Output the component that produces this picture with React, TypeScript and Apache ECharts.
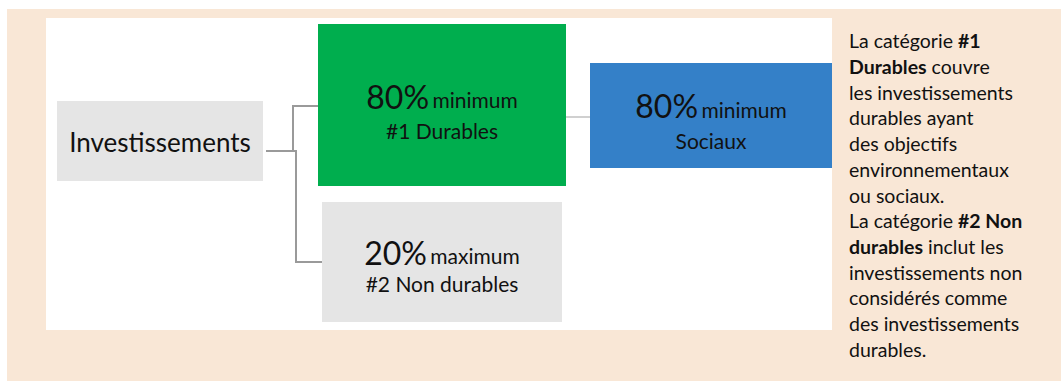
import React, { useEffect, useRef } from "react";
import * as echarts from "echarts";

const rootLabel = "Investissements";
const nodePercents = ["80%", "80%", "20%"];
const nodeQualifiers = ["minimum", "minimum", "maximum"];
const nodeNames = ["#1 Durables", "Sociaux", "#2 Non durables"];
const descriptionLines: string[] = [
  "La catégorie {b|#1}",
  "{b|Durables} couvre",
  "les investissements",
  "durables ayant",
  "des objectifs",
  "environnementaux",
  "ou sociaux.",
  "La catégorie {b|#2 Non}",
  "{b|durables} inclut les",
  "investissements non",
  "considérés comme",
  "des investissements",
  "durables.",
];

const FONT = "Lato, 'Open Sans', sans-serif";
const PEACH = "#f9e7d6";
const GREY_BOX = "#e5e5e5";
const GREEN = "#00ae4e";
const BLUE = "#3480c8";

type Box = { x: number; y: number; w: number; h: number; fill: string; dy1: number; dy2: number };
const boxes: Box[] = [
  { x: 318, y: 24, w: 248, h: 162, fill: GREEN, dy1: -9, dy2: 25 },
  { x: 590, y: 63, w: 242, h: 105, fill: BLUE, dy1: -10, dy2: 25 },
  { x: 322, y: 202, w: 240, h: 120, fill: GREY_BOX, dy1: -10, dy2: 21 },
];

export default function App() {
  const ref = useRef<HTMLDivElement>(null);
  useEffect(() => {
    document.body.style.margin = "0";
    const chart = echarts.init(ref.current!, null, { renderer: "svg" });
    const elements: any[] = [
      { type: "rect", shape: { x: 7, y: 9, width: 1054, height: 372 }, style: { fill: PEACH } },
      { type: "rect", shape: { x: 46, y: 18, width: 786, height: 312 }, style: { fill: "#ffffff" } },
      { type: "rect", shape: { x: 57, y: 101, width: 206, height: 80 }, style: { fill: GREY_BOX } },
      {
        type: "text",
        x: 160,
        y: 142,
        style: { text: rootLabel, font: `26px ${FONT}`, fill: "#111", align: "center", verticalAlign: "middle" },
      },
      { type: "polyline", shape: { points: [[266, 151], [296, 151], [296, 262], [322, 262]] }, style: { stroke: "#9a9a9a", lineWidth: 2, fill: "none" } },
      { type: "polyline", shape: { points: [[293, 151], [293, 106], [318, 106]] }, style: { stroke: "#9a9a9a", lineWidth: 2, fill: "none" } },
      { type: "line", shape: { x1: 566, y1: 117, x2: 590, y2: 117 }, style: { stroke: "#d0d0d0", lineWidth: 2 } },
    ];
    boxes.forEach((b, i) => {
      elements.push({ type: "rect", shape: { x: b.x, y: b.y, width: b.w, height: b.h }, style: { fill: b.fill } });
      const cx = b.x + b.w / 2;
      const cy = b.y + b.h / 2;
      elements.push({
        type: "text",
        x: cx,
        y: cy + b.dy1,
        style: {
          text: `{p|${nodePercents[i]}} {q|${nodeQualifiers[i]}}`,
          align: "center",
          verticalAlign: "middle",
          rich: {
            p: { font: `32px ${FONT}`, fill: "#111" },
            q: { font: `21px ${FONT}`, fill: "#111", padding: [7, 0, 0, 0] },
          },
        },
      });
      elements.push({
        type: "text",
        x: cx,
        y: cy + b.dy2,
        style: { text: nodeNames[i], font: `21px ${FONT}`, fill: "#111", align: "center", verticalAlign: "middle" },
      });
    });
    elements.push({
      type: "text",
      x: 849,
      y: 28,
      style: {
        text: descriptionLines.join("\n"),
        font: `19.5px ${FONT}`,
        fill: "#111",
        lineHeight: 25.7,
        align: "left",
        verticalAlign: "top",
        rich: {
          b: { font: `bold 19.5px ${FONT}`, fill: "#111", lineHeight: 25.7 },
        },
      },
    });
    chart.setOption({ animation: false, graphic: { elements } });
    return () => chart.dispose();
  }, []);
  return <div ref={ref} style={{ width: 1061, height: 381 }} />;
}
